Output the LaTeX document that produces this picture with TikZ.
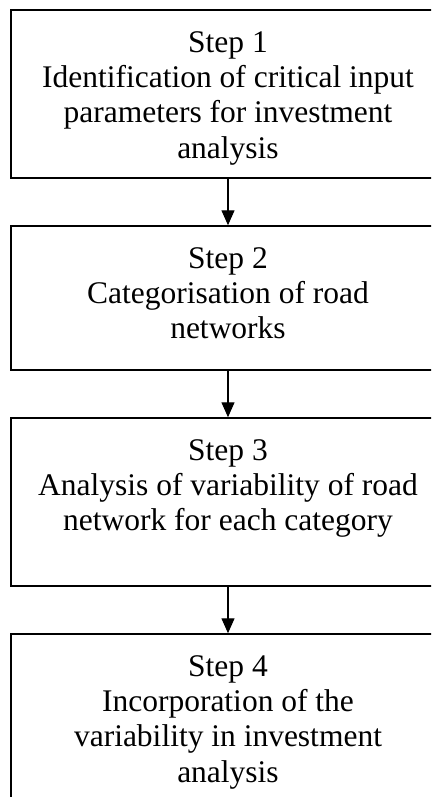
\documentclass[tikz,border=0pt]{standalone}
\usepackage{fontspec}
\setmainfont{Liberation Serif}
\usetikzlibrary{arrows.meta}
\tikzset{
  stepbox/.style={draw, line width=1.5pt, minimum width=434pt, inner sep=0pt},
  steptext/.style={anchor=north, align=center, inner sep=0pt,
    font=\fontsize{31.5}{35.3}\selectfont},
  flow/.style={line width=1.3pt, -{Triangle[length=15pt,width=13pt]}}
}
\begin{document}
\begin{tikzpicture}[x=1pt,y=1pt]
\useasboundingbox (0,0) rectangle (431,-797);
\clip (0,0) rectangle (431,-797);

% the four boxes
\node[stepbox, minimum height=168pt] (s1) at (228,-94) {};
\node[stepbox, minimum height=144pt] (s2) at (228,-298) {};
\node[stepbox, minimum height=168pt] (s3) at (228,-502) {};
\node[stepbox, minimum height=210pt] (s4) at (228,-739) {};

% texts, top aligned
\node[steptext] (t1) at ([yshift=-22pt]s1.north)
  {Step 1\\Identification of critical input\\parameters for investment\\analysis};
\node[steptext] (t2) at ([yshift=-22pt]s2.north)
  {Step 2\\Categorisation of road\\networks};
\node[steptext] (t3) at ([yshift=-22pt]s3.north)
  {Step 3\\Analysis of variability of road\\network for each category};
\node[steptext] (t4) at ([yshift=-22pt]s4.north)
  {Step 4\\Incorporation of the\\variability in investment\\analysis};

\draw[flow] (s1) -- (s2);
\draw[flow] (s2) -- (s3);
\draw[flow] (s3) -- (s4);

\end{tikzpicture}
\end{document}
